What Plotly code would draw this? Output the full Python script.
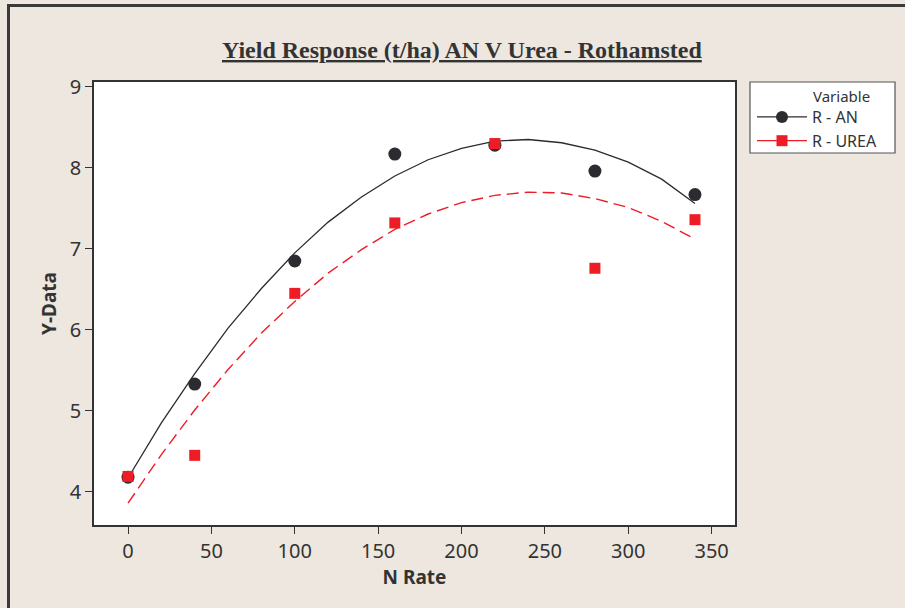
import plotly.graph_objects as go

# Observed data
n_rate = [0, 40, 100, 160, 220, 280, 340]
an_yield = [4.18, 5.33, 6.85, 8.17, 8.28, 7.96, 7.67]
urea_yield = [4.19, 4.45, 6.45, 7.32, 8.30, 6.76, 7.36]

# Fitted curves
fit_x = [0, 20, 40, 60, 80, 100, 120, 140, 160, 180, 200, 220, 240, 260, 280, 300, 320, 340]
an_fit = [4.17, 4.85, 5.46, 6.02, 6.51, 6.95, 7.33, 7.64, 7.90, 8.10, 8.24, 8.33, 8.35, 8.31, 8.22, 8.07, 7.86, 7.56]
urea_fit = [3.86, 4.46, 5.01, 5.51, 5.96, 6.35, 6.70, 6.99, 7.24, 7.43, 7.57, 7.66, 7.70, 7.69, 7.62, 7.51, 7.34, 7.12]

x_ticks = [0, 50, 100, 150, 200, 250, 300, 350]
y_ticks = [4, 5, 6, 7, 8, 9]

BLACK = "#2b2b30"
RED = "#ee1c25"
BG = "#ede7df"
TXT = "#333333"

fig = go.Figure()
fig.add_trace(go.Scatter(x=fit_x, y=an_fit, mode="lines", line=dict(color=BLACK, width=1.3),
                         showlegend=False, hoverinfo="skip"))
fig.add_trace(go.Scatter(x=fit_x, y=urea_fit, mode="lines",
                         line=dict(color=RED, width=1.4, dash="12px,6px"),
                         showlegend=False, hoverinfo="skip"))
fig.add_trace(go.Scatter(x=n_rate, y=an_yield, mode="markers",
                         marker=dict(symbol="circle", size=13, color=BLACK),
                         showlegend=False))
fig.add_trace(go.Scatter(x=n_rate, y=urea_yield, mode="markers",
                         marker=dict(symbol="square", size=11, color=RED),
                         showlegend=False))
# legend-only entries
fig.add_trace(go.Scatter(x=[None], y=[None], mode="lines+markers", name="R - AN",
                         line=dict(color=BLACK, width=1.3),
                         marker=dict(symbol="circle", size=12, color=BLACK)))
fig.add_trace(go.Scatter(x=[None], y=[None], mode="lines+markers", name="R - UREA",
                         line=dict(color=RED, width=1.3),
                         marker=dict(symbol="square", size=11, color=RED)))

W, H = 905, 608
L, R, T, B = 94, 735, 82, 525
pw, ph = R - L, B - T

def px_x(p):
    return (p - L) / pw

def px_y(p):
    return (B - p) / ph

fig.update_layout(
    width=W, height=H,
    margin=dict(l=L, r=W - R, t=T, b=H - B),
    paper_bgcolor=BG,
    plot_bgcolor="white",
    font=dict(family="Noto Sans", color=TXT),
    showlegend=True,
    legend=dict(x=px_x(752), y=px_y(100), xanchor="left", yanchor="top",
                bgcolor="rgba(0,0,0,0)", borderwidth=0,
                font=dict(family="Noto Sans", size=16, color=TXT),
                itemwidth=50, tracegroupgap=0),
    annotations=[
        dict(text="<b><u>Yield Response (t/ha) AN V Urea - Rothamsted</u></b>",
             xref="paper", yref="paper", x=px_x(462), y=px_y(50),
             xanchor="center", yanchor="middle", showarrow=False,
             font=dict(family="Liberation Serif", size=24, color=TXT)),
        dict(text="Variable", xref="paper", yref="paper", x=px_x(811), y=px_y(96),
             xanchor="left", yanchor="middle", showarrow=False,
             font=dict(family="Noto Sans", size=15, color=TXT)),
    ],
    shapes=[
        dict(type="rect", xref="paper", yref="paper",
             x0=px_x(8.5), x1=px_x(930), y0=px_y(5.5), y1=px_y(640),
             line=dict(color="#3a3a3a", width=3), fillcolor="rgba(0,0,0,0)", layer="below"),
        dict(type="rect", xref="paper", yref="paper",
             x0=px_x(750), x1=px_x(895), y0=px_y(82), y1=px_y(153),
             line=dict(color="#555555", width=1.2), fillcolor="white", layer="below"),
    ],
)

fig.update_xaxes(range=[-20.4, 364], tickvals=x_ticks, ticks="outside", ticklen=7,
                 tickcolor=TXT, tickwidth=1.3, showgrid=False, zeroline=False,
                 showline=True, linecolor=TXT, linewidth=1.5, mirror=True,
                 tickfont=dict(size=20, color=TXT),
                 title=dict(text="<b>N Rate</b>", font=dict(size=19, color=TXT), standoff=6))
fig.update_yaxes(range=[3.59, 9.06], tickvals=y_ticks, ticks="outside", ticklen=7,
                 tickcolor=TXT, tickwidth=1.3, showgrid=False, zeroline=False,
                 showline=True, linecolor=TXT, linewidth=1.5, mirror=True,
                 tickfont=dict(size=20, color=TXT),
                 title=dict(text="<b>Y-Data</b>", font=dict(size=19, color=TXT), standoff=8))

fig.write_html("out.html", config={"displayModeBar": False},
               post_script="document.body.style.margin='0';")
